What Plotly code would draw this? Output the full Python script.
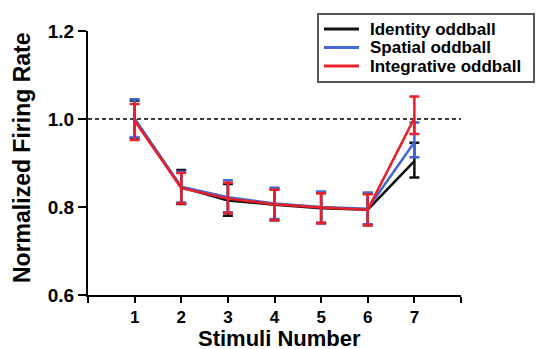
import plotly.graph_objects as go

stimuli = [1, 2, 3, 4, 5, 6, 7]

identity_mean = [1.000, 0.845, 0.815, 0.805, 0.797, 0.794, 0.904]
identity_upper = [1.042, 0.884, 0.852, 0.841, 0.832, 0.830, 0.946]
identity_lower = [0.957, 0.807, 0.780, 0.770, 0.763, 0.759, 0.867]

spatial_mean = [1.000, 0.846, 0.822, 0.808, 0.800, 0.796, 0.947]
spatial_upper = [1.045, 0.880, 0.861, 0.844, 0.835, 0.833, 0.992]
spatial_lower = [0.958, 0.810, 0.788, 0.773, 0.765, 0.761, 0.913]

integrative_mean = [0.996, 0.843, 0.819, 0.806, 0.799, 0.794, 1.002]
integrative_upper = [1.034, 0.877, 0.855, 0.839, 0.831, 0.829, 1.051]
integrative_lower = [0.952, 0.808, 0.786, 0.770, 0.763, 0.758, 0.966]

series_names = ["Identity oddball", "Spatial oddball", "Integrative oddball"]
series_colors = ["#111111", "#4466d4", "#e8202a"]

x_ticks = [0, 1, 2, 3, 4, 5, 6, 7, 8]
x_tick_text = ["", "1", "2", "3", "4", "5", "6", "7", ""]
y_ticks = [0.6, 0.8, 1.0, 1.2]

FONT = "Liberation Sans, Arial, sans-serif"

fig = go.Figure()
all_series = [
    (identity_mean, identity_upper, identity_lower),
    (spatial_mean, spatial_upper, spatial_lower),
    (integrative_mean, integrative_upper, integrative_lower),
]
for (m, up, lo), name, col in zip(all_series, series_names, series_colors):
    fig.add_trace(go.Scatter(
        x=stimuli, y=m, name=name, mode="lines",
        line=dict(color=col, width=2.5),
        error_y=dict(type="data", symmetric=False,
                     array=[u - v for u, v in zip(up, m)],
                     arrayminus=[v - l for v, l in zip(m, lo)],
                     color=col, thickness=2.5, width=5),
        showlegend=False,
    ))

# dashed reference line at 1.0
fig.add_shape(type="line", xref="x", yref="y", x0=0, x1=8, y0=1.0, y1=1.0,
              line=dict(color="black", width=1.3, dash="4px,3px"), layer="below")

# manual legend
fig.add_shape(type="rect", xref="paper", yref="paper",
              x0=(318 - 88) / 373, x1=(534 - 88) / 373,
              y0=(295 - 82) / 264, y1=(295 - 14) / 264,
              line=dict(color="#555555", width=2), fillcolor="white")
row_y = [29, 47.5, 66]
for ry, name, col in zip(row_y, series_names, series_colors):
    py = (295 - ry) / 264
    fig.add_shape(type="line", xref="paper", yref="paper",
                  x0=(324 - 88) / 373, x1=(359 - 88) / 373, y0=py, y1=py,
                  line=dict(color=col, width=3))
    fig.add_annotation(x=(368 - 88) / 373, y=py, xref="paper", yref="paper",
                       text=name, showarrow=False, xanchor="left", yanchor="middle",
                       font=dict(family=FONT, size=17, color="black", weight="bold"))

# axis titles
fig.add_annotation(x=(279 - 88) / 373, y=(295 - 338) / 264, xref="paper", yref="paper",
                   text="Stimuli Number", showarrow=False, xanchor="center", yanchor="middle",
                   font=dict(family=FONT, size=22, color="black", weight="bold"))
fig.add_annotation(x=(22 - 88) / 373, y=(295 - 158) / 264, xref="paper", yref="paper",
                   text="Normalized Firing Rate", showarrow=False, textangle=-90,
                   xanchor="center", yanchor="middle",
                   font=dict(family=FONT, size=23, color="black", weight="bold"))

fig.update_xaxes(range=[0, 8], tickvals=x_ticks, ticktext=x_tick_text,
                 showline=True, linecolor="black", linewidth=2,
                 ticks="outside", ticklen=6, tickwidth=2, tickcolor="black",
                 showgrid=False, zeroline=False,
                 tickfont=dict(family=FONT, size=17, color="black", weight="bold"))
fig.update_yaxes(range=[0.6, 1.2], tickvals=y_ticks, tickformat=".1f",
                 showline=True, linecolor="black", linewidth=2,
                 ticks="outside", ticklen=8, tickwidth=2, tickcolor="black",
                 showgrid=False, zeroline=False,
                 tickfont=dict(family=FONT, size=19, color="black", weight="bold"))

fig.update_layout(width=536, height=349,
                  margin=dict(l=88, r=75, t=31, b=54, autoexpand=False),
                  plot_bgcolor="white", paper_bgcolor="white",
                  showlegend=False)

fig.write_html("out.html")
